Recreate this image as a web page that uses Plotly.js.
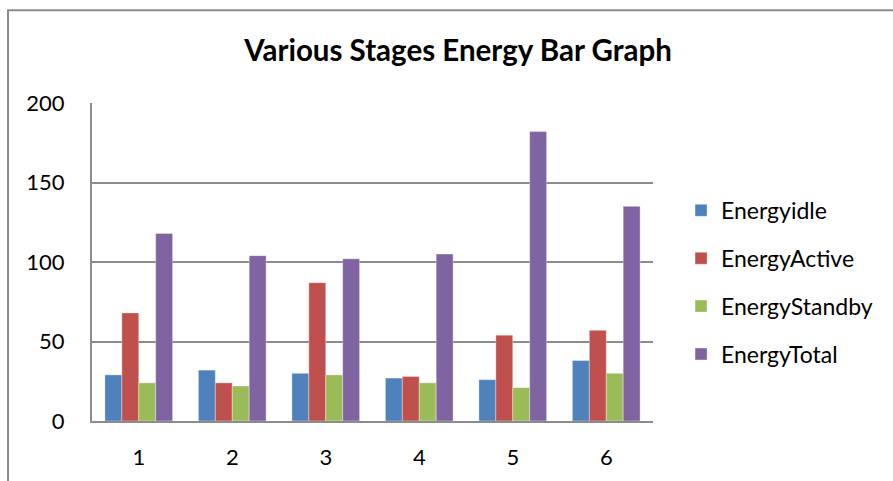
<!DOCTYPE html>
<html><head><meta charset="utf-8">
<script src="https://cdn.plot.ly/plotly-3.0.1.min.js"></script>
<style>html,body{margin:0;padding:0;background:#fff;}#chart{width:893px;height:481px;}</style>
</head><body><div id="chart"></div>
<script>
const stages = ["1","2","3","4","5","6"];
const energyIdle = [29, 32, 30, 27, 26, 38];
const energyActive = [68, 24, 87, 28, 54, 57];
const energyStandby = [24, 22, 29, 24, 21, 30];
const energyTotal = [118, 104, 102, 105, 182, 135];
const seriesNames = ["Energyidle", "EnergyActive", "EnergyStandby", "EnergyTotal"];
const seriesColors = ["#4F81BD", "#C0504D", "#9BBB59", "#8064A2"];
const seriesValues = [energyIdle, energyActive, energyStandby, energyTotal];

const font = "Lato, 'Open Sans', sans-serif";
const traces = seriesValues.map((v, i) => ({
  type: "bar", x: stages, y: v, name: seriesNames[i], legendgroup: "g" + i,
  marker: {color: seriesColors[i], line: {color: "rgba(255,255,255,0.6)", width: 0.6}},
  hoverinfo: "x+y+name"
}));

const layout = {
  width: 893, height: 481,
  margin: {l: 92, r: 240, t: 103, b: 60},
  paper_bgcolor: "#fff", plot_bgcolor: "#fff",
  title: {text: "<b>Various Stages Energy Bar Graph</b>", x: 458/893, xanchor: "center", y: 1 - 51/481, yanchor: "middle",
          font: {family: font, size: 29.5, color: "#000"}},
  barmode: "group", bargap: 0.276, bargroupgap: 0,
  xaxis: {type: "category", showgrid: false, zeroline: false, showline: true, linecolor: "#8c8c8c", linewidth: 2,
          ticks: "", tickfont: {family: font, size: 22, color: "#000"}, ticklabelstandoff: 16, fixedrange: true},
  yaxis: {range: [0, 200], dtick: 50, tick0: 0, showgrid: true, gridcolor: "#8c8c8c", gridwidth: 2,
          zeroline: false, showline: true, linecolor: "#8c8c8c", linewidth: 2, ticks: "",
          tickfont: {family: font, size: 22, color: "#000"}, ticklabelstandoff: 21, fixedrange: true},
  legend: {x: 1.05, xanchor: "left", y: 0.73, yanchor: "top", traceorder: "grouped", tracegroupgap: 15,
           font: {family: font, size: 23, color: "#000"}, bgcolor: "rgba(0,0,0,0)", itemwidth: 30},
  showlegend: true,
  shapes: [{type: "path", xref: "paper", yref: "paper",
            path: "M -0.1497 -0.3 L -0.1497 1.292 L 1.6 1.292",
            line: {color: "#8c8c8c", width: 2}}]
};
Plotly.newPlot("chart", traces, layout, {displayModeBar: false, staticPlot: true});
</script></body></html>
